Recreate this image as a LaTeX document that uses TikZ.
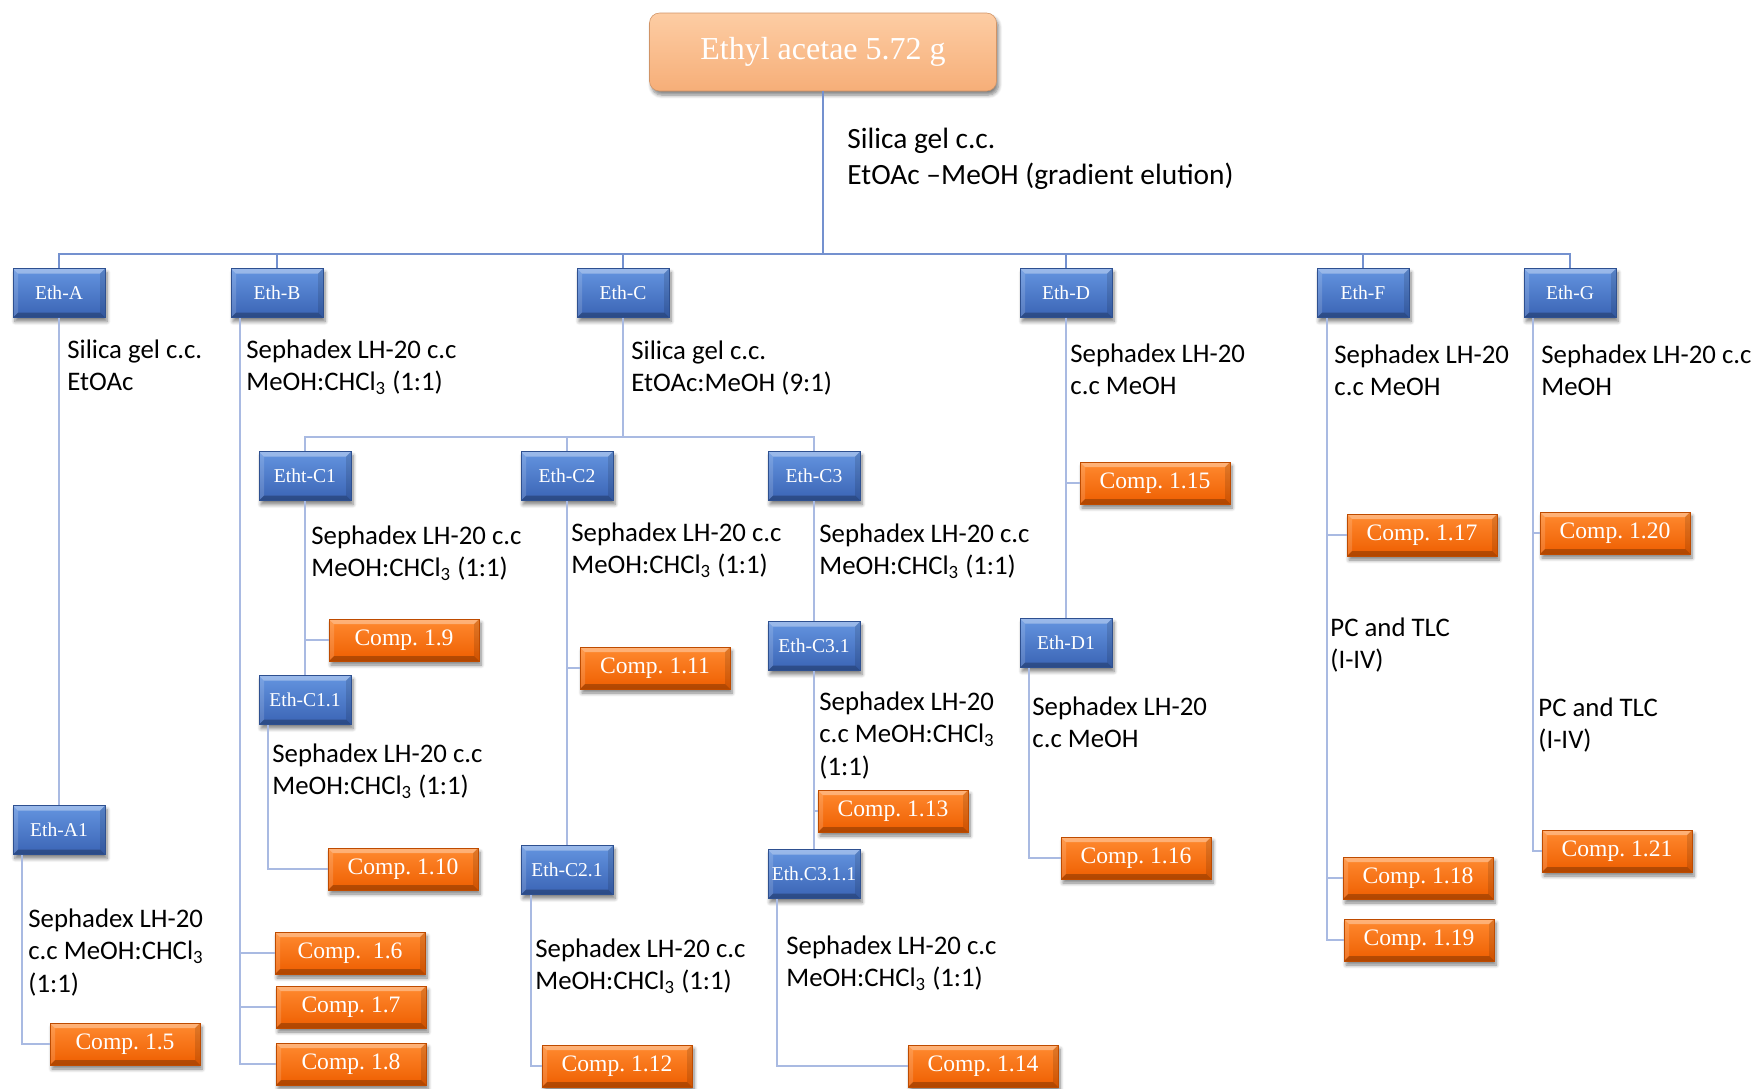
\documentclass[tikz,border=0pt]{standalone}
\usepackage{fontspec}
\setmainfont{Liberation Serif}
\newfontfamily\notefont[Ligatures=TeX]{Carlito}
\usepackage{tikz}
\usetikzlibrary{shadows.blur}
\definecolor{ethtop}{HTML}{6494E0}
\definecolor{ethbot}{HTML}{3A64B4}
\definecolor{comptop}{HTML}{FF8A30}
\definecolor{compbot}{HTML}{EE5E00}
\definecolor{peachtop}{HTML}{FDCDA4}
\definecolor{peachbot}{HTML}{F6AE78}
\definecolor{linkblue}{HTML}{A9BAE2}
\definecolor{busblue}{HTML}{7491CF}

% raised edges on the boxes
\tikzset{
  bevel/.style={path picture={
    \path (path picture bounding box.north west) coordinate (bnw)
          (path picture bounding box.north east) coordinate (bne)
          (path picture bounding box.south west) coordinate (bsw)
          (path picture bounding box.south east) coordinate (bse);
    \fill[white,opacity=.35] (bnw) -- (bne) -- ([shift={(-#1,-#1)}]bne) -- ([shift={(#1,-#1)}]bnw) -- cycle;
    \fill[white,opacity=.15] (bnw) -- (bsw) -- ([shift={(#1,#1)}]bsw) -- ([shift={(#1,-#1)}]bnw) -- cycle;
    \fill[black,opacity=.25] (bsw) -- (bse) -- ([shift={(-#1,#1)}]bse) -- ([shift={(#1,#1)}]bsw) -- cycle;
    \fill[black,opacity=.12] (bne) -- (bse) -- ([shift={(-#1,#1)}]bse) -- ([shift={(-#1,-#1)}]bne) -- cycle;
  }},
  bevel/.default=2.5pt
}

\begin{document}
\begin{tikzpicture}[x=0.5pt,y=-0.5pt,
  eth/.style={rectangle, minimum width=46pt, minimum height=24.5pt, inner sep=0pt,
    top color=ethtop, bottom color=ethbot, draw=ethbot!80!black, line width=.3pt,
    text=white, font=\fontsize{9.8}{11}\selectfont\frenchspacing, bevel,
    blur shadow={shadow xshift=1pt, shadow yshift=-2pt, shadow blur steps=6, shadow opacity=50}},
  comp/.style={eth, minimum width=75pt, minimum height=21pt,
    top color=comptop, bottom color=compbot, draw=compbot!80!black,
    font=\fontsize{11.8}{14}\selectfont\frenchspacing},
  note/.style={anchor=north west, inner sep=0pt, align=left,
    font=\notefont\fontsize{13.4}{16.25}\selectfont},
  link/.style={draw=linkblue, line width=1pt},
  bus/.style={draw=busblue, line width=1.2pt}]
\useasboundingbox (0,0) rectangle (1755,1088);

% extract
\node[rectangle, rounded corners=5pt, minimum width=173.5pt, minimum height=39pt,
  top color=peachtop, bottom color=peachbot, draw=peachbot!85!black, line width=.3pt,
  text=white, font=\fontsize{16}{19}\selectfont,
  blur shadow={shadow xshift=1pt, shadow yshift=-2pt, shadow blur steps=6, shadow opacity=50}]
  (src) at (823,52) {Ethyl acetae 5.72 g};
\node[note, font=\notefont\fontsize{14.7}{18}\selectfont] (tsrc) at (847,128)
  {Silica gel c.c.\\EtOAc \textendash MeOH (gradient elution)};

% first fractions
\foreach \nm/\x/\lab in {ethA/59/Eth-A, ethB/277/Eth-B, ethC/623/Eth-C,
                         ethD/1066/Eth-D, ethF/1363/Eth-F, ethG/1570/Eth-G}
  \node[eth] (\nm) at (\x,293) {\lab};

% sub fractions
\node[eth] (ethA1) at (59,830) {Eth-A1};
\node[eth] (ethC1) at (305,476) {Etht-C1};
\node[eth] (ethC2) at (567,476) {Eth-C2};
\node[eth] (ethC3) at (814,476) {Eth-C3};
\node[eth] (ethC11) at (305,700) {Eth-C1.1};
\node[eth] (ethC21) at (567,870) {Eth-C2.1};
\node[eth] (ethC31) at (814,646) {Eth-C3.1};
\node[eth] (ethC311) at (814,874) {Eth.C3.1.1};
\node[eth] (ethD1) at (1066,643) {Eth-D1};

% compounds
\node[comp] (c5) at (125,1044) {Comp. 1.5};
\node[comp] (c6) at (350,953) {Comp.\ \ 1.6};
\node[comp] (c7) at (351,1007) {Comp. 1.7};
\node[comp] (c8) at (351,1064) {Comp. 1.8};
\node[comp] (c9) at (404,640) {Comp. 1.9};
\node[comp] (c10) at (403,869) {Comp. 1.10};
\node[comp] (c11) at (655,668) {Comp. 1.11};
\node[comp] (c12) at (617,1066) {Comp. 1.12};
\node[comp] (c13) at (893,811) {Comp. 1.13};
\node[comp] (c14) at (983,1066) {Comp. 1.14};
\node[comp] (c15) at (1155,483) {Comp. 1.15};
\node[comp] (c16) at (1136,858) {Comp. 1.16};
\node[comp] (c17) at (1422,535) {Comp. 1.17};
\node[comp] (c18) at (1418,878) {Comp. 1.18};
\node[comp] (c19) at (1419,940) {Comp. 1.19};
\node[comp] (c20) at (1615,533) {Comp. 1.20};
\node[comp] (c21) at (1617,851) {Comp. 1.21};

% separation conditions
\node[note] (tA) at (67,339) {Silica gel c.c.\\EtOAc};
\node[note] (tB) at (246,339) {Sephadex LH-20 c.c\\MeOH:CHCl\textsubscript{3} (1:1)};
\node[note] (tC) at (631,340) {Silica gel c.c.\\EtOAc:MeOH (9:1)};
\node[note] (tD) at (1070,343) {Sephadex LH-20\\c.c MeOH};
\node[note] (tF) at (1334,344) {Sephadex LH-20\\c.c MeOH};
\node[note] (tG) at (1541,344) {Sephadex LH-20 c.c\\MeOH};
\node[note] (tC1) at (311,525) {Sephadex LH-20 c.c\\MeOH:CHCl\textsubscript{3} (1:1)};
\node[note] (tC2) at (571,522) {Sephadex LH-20 c.c\\MeOH:CHCl\textsubscript{3} (1:1)};
\node[note] (tC3) at (819,523) {Sephadex LH-20 c.c\\MeOH:CHCl\textsubscript{3} (1:1)};
\node[note] (tC11) at (272,743) {Sephadex LH-20 c.c\\MeOH:CHCl\textsubscript{3} (1:1)};
\node[note] (tC31) at (819,691) {Sephadex LH-20\\c.c MeOH:CHCl\textsubscript{3}\\(1:1)};
\node[note] (tC21) at (535,938) {Sephadex LH-20 c.c\\MeOH:CHCl\textsubscript{3} (1:1)};
\node[note] (tC311) at (786,935) {Sephadex LH-20 c.c\\MeOH:CHCl\textsubscript{3} (1:1)};
\node[note] (tA1) at (28,908) {Sephadex LH-20\\c.c MeOH:CHCl\textsubscript{3}\\(1:1)};
\node[note] (tD1) at (1032,696) {Sephadex LH-20\\c.c MeOH};
\node[note] (tF2) at (1330,617) {PC and TLC\\(I-IV)};
\node[note] (tG2) at (1538,697) {PC and TLC\\(I-IV)};

% main split
\coordinate (split) at (823,254);
\draw[bus] (src) -- (split);
\draw[bus] (ethA) -- (ethA |- split) -- (ethG |- split) -- (ethG);
\foreach \nm in {ethB,ethC,ethD,ethF}
  \draw[bus] (\nm) -- (\nm |- split);

% Eth-A
\draw[link] (ethA) -- (ethA1);
\draw[link] ([xshift=4.5pt]ethA1.south west) |- (c5);

% Eth-B
\coordinate (bline) at ([xshift=4.5pt]ethB.south west);
\draw[link] (bline) |- (c8);
\draw[link] (c6) -- (c6 -| bline);
\draw[link] (c7) -- (c7 -| bline);

% Eth-C
\coordinate (csplit) at (623,437);
\draw[link] (ethC) -- (csplit);
\draw[link] (ethC1) -- (ethC1 |- csplit) -- (ethC3 |- csplit) -- (ethC3);
\draw[link] (ethC2) -- (ethC2 |- csplit);
\draw[link] (ethC1) -- (ethC11);
\draw[link] (c9) -- (c9 -| ethC1);
\draw[link] ([xshift=4.5pt]ethC11.south west) |- (c10);
\draw[link] (ethC2) -- (ethC21);
\draw[link] (c11) -- (c11 -| ethC2);
\draw[link] ([xshift=5pt]ethC21.south west) |- (c12);
\draw[link] (ethC3) -- (ethC31);
\draw[link] (ethC31) -- (ethC311);
\draw[link] (c13) -- (c13 -| ethC31);
\draw[link] ([xshift=4.5pt]ethC311.south west) |- (c14);

% Eth-D
\draw[link] (ethD) -- (ethD1);
\draw[link] (c15) -- (c15 -| ethD);
\draw[link] ([xshift=4.5pt]ethD1.south west) |- (c16);

% Eth-F
\coordinate (fline) at ([xshift=5pt]ethF.south west);
\draw[link] (fline) |- (c19);
\draw[link] (c17) -- (c17 -| fline);
\draw[link] (c18) -- (c18 -| fline);

% Eth-G
\coordinate (gline) at ([xshift=4.5pt]ethG.south west);
\draw[link] (gline) |- (c21);
\draw[link] (c20) -- (c20 -| gline);
\end{tikzpicture}
\end{document}
